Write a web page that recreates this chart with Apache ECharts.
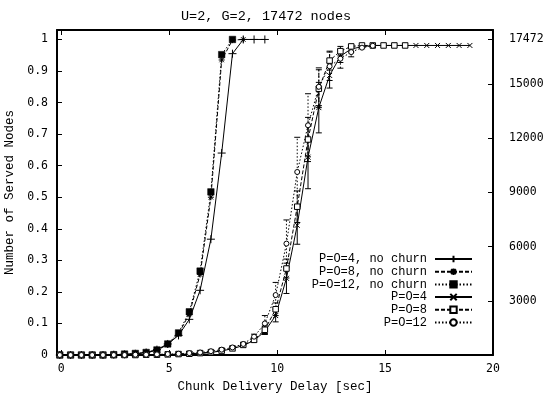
<!DOCTYPE html>
<html>
<head>
<meta charset="utf-8">
<script src="https://cdn.jsdelivr.net/npm/echarts@6/dist/echarts.min.js"></script>
<style>html,body{margin:0;padding:0;background:#fff}#c{width:546px;height:400px}</style>
</head>
<body>
<div id="c"></div>
<script>
const titleText = 'U=2, G=2, 17472 nodes';
const xName = 'Chunk Delivery Delay [sec]';
const yName = 'Number of Served Nodes';
const seriesNames = ['P=O=4, no churn', 'P=O=8, no churn', 'P=O=12, no churn', 'P=O=4', 'P=O=8', 'P=O=12'];
const xTicks = [0, 5, 10, 15, 20];
const yTicks = [0, 0.1, 0.2, 0.3, 0.4, 0.5, 0.6, 0.7, 0.8, 0.9, 1];
const y2Ticks = [3000, 6000, 9000, 12000, 15000, 17472];
const totalNodes = 17472;

// delay sample points (sec)
const xs = [-0.07, 0.43, 0.93, 1.43, 1.93, 2.43, 2.93, 3.43, 3.93, 4.43,
            4.93, 5.43, 5.93, 6.43, 6.93, 7.43, 7.93, 8.43, 8.93, 9.43,
            9.93, 10.43, 10.93, 11.43, 11.93, 12.43, 12.93, 13.43, 13.93, 14.43,
            14.93, 15.43, 15.93, 16.43, 16.93, 17.43, 17.93, 18.43, 18.93];

// fraction of served nodes
const s1 = [0, 0, 0, 0, 0, 0.001, 0.002, 0.004, 0.008, 0.017,
            0.035, 0.062, 0.113, 0.205, 0.367, 0.64, 0.955, 1.0, 1.0, 1.0];
const s2 = [0, 0, 0, 0, 0, 0.001, 0.002, 0.004, 0.007, 0.015,
            0.033, 0.066, 0.13, 0.255, 0.5, 0.935, 0.998, 1.0];
const s3 = [0, 0, 0, 0, 0, 0.001, 0.003, 0.005, 0.008, 0.016,
            0.035, 0.07, 0.137, 0.266, 0.517, 0.952, 1.0];
const s4 = [0, 0, 0, 0, 0, 0, 0, 0, 0, 0.001,
            0.001, 0.002, 0.003, 0.005, 0.008, 0.013, 0.02, 0.03, 0.046, 0.075,
            0.125, 0.243, 0.411, 0.627, 0.784, 0.886, 0.947, 0.97, 0.977, 0.981,
            0.981, 0.981, 0.981, 0.981, 0.981, 0.981, 0.981, 0.981, 0.981];
const s5 = [0, 0, 0, 0, 0, 0, 0, 0, 0.001, 0.001,
            0.002, 0.003, 0.004, 0.006, 0.009, 0.014, 0.021, 0.032, 0.048, 0.08,
            0.145, 0.274, 0.47, 0.683, 0.844, 0.933, 0.963, 0.978, 0.981, 0.981,
            0.981, 0.981, 0.981];
const s6 = [0, 0, 0, 0, 0, 0, 0, 0.001, 0.001, 0.002,
            0.003, 0.004, 0.006, 0.008, 0.012, 0.017, 0.024, 0.035, 0.058, 0.1,
            0.19, 0.353, 0.58, 0.728, 0.85, 0.915, 0.939, 0.96, 0.974, 0.98];

// error bar half-widths (churn runs)
const e4 = [0, 0, 0, 0, 0, 0, 0, 0, 0, 0,
            0, 0, 0, 0, 0, 0, 0, 0, 0.005, 0.01,
            0.02, 0.048, 0.06, 0.1, 0.08, 0.04, 0.02, 0.01, 0, 0];
const e5 = [0, 0, 0, 0, 0, 0, 0, 0, 0, 0,
            0, 0, 0, 0, 0, 0, 0, 0, 0.005, 0.012,
            0.02, 0.03, 0.05, 0.07, 0.06, 0.03, 0.015, 0.005, 0, 0];
const e6 = [0, 0, 0, 0, 0, 0, 0, 0, 0, 0,
            0, 0, 0, 0, 0, 0, 0, 0, 0.008, 0.025,
            0.04, 0.075, 0.11, 0.1, 0.06, 0.045, 0.03, 0.015, 0, 0];

const MONO = 'Liberation Mono';
const NUM = 'DejaVu Sans Mono';

const plusPath = 'path://M0,-4L0,4M-4,0L4,0';
const crossPath = 'path://M-3,-3L3,3M-3,3L3,-3';
const starPath = 'path://M0,-4L0,4M-4,0L4,0M-3,-3L3,3M-3,3L3,-3';

function pts(vals) { return vals.map((v, i) => [xs[i], v]); }
function errData(vals, errs) {
  const out = [];
  vals.forEach((v, i) => { if (errs[i] > 0) out.push([xs[i], v - errs[i], Math.min(v + errs[i], 1.03)]); });
  return out;
}

const styles = [
  { dash: 'solid', symbol: plusPath, size: 8, fill: '#000', bw: 1 },
  { dash: [4, 2], symbol: starPath, size: 6, fill: '#000', bw: 1 },
  { dash: [1.5, 2], symbol: 'rect', size: 6.5, fill: '#000', bw: 0.5 },
  { dash: 'solid', symbol: crossPath, size: 5, fill: '#000', bw: 1 },
  { dash: [4, 2], symbol: 'rect', size: 5.5, fill: '#fff', bw: 1 },
  { dash: [1.5, 2], symbol: 'circle', size: 5, fill: '#fff', bw: 1 }
];
const allVals = [s1, s2, s3, s4, s5, s6];

const series = [];
allVals.forEach((vals, k) => {
  const st = styles[k];
  series.push({
    name: seriesNames[k],
    type: 'line',
    data: pts(vals),
    symbol: st.symbol,
    symbolSize: st.size,
    showAllSymbol: true,
    lineStyle: { color: '#000', width: 1, type: st.dash },
    itemStyle: { color: st.fill, borderColor: '#000', borderWidth: st.bw },
    emphasis: { disabled: true },
    animation: false,
    z: 3 + k
  });
});

const errSets = [[s4, e4, 'solid'], [s5, e5, [4, 2]], [s6, e6, [1.5, 2]]];
errSets.forEach(([vals, errs, dash]) => {
  series.push({
    type: 'custom',
    data: errData(vals, errs),
    encode: { x: 0, y: [1, 2] },
    silent: true,
    animation: false,
    z: 2,
    renderItem: function (params, api) {
      const x = api.value(0);
      const lo = api.coord([x, api.value(1)]);
      const hi = api.coord([x, api.value(2)]);
      const w = 3;
      const style = { stroke: '#000', lineWidth: 1, lineDash: dash === 'solid' ? null : dash };
      return {
        type: 'group',
        children: [
          { type: 'line', shape: { x1: lo[0], y1: lo[1], x2: hi[0], y2: hi[1] }, style: style },
          { type: 'line', shape: { x1: lo[0] - w, y1: lo[1], x2: lo[0] + w, y2: lo[1] }, style: { stroke: '#000', lineWidth: 1 } },
          { type: 'line', shape: { x1: hi[0] - w, y1: hi[1], x2: hi[0] + w, y2: hi[1] }, style: { stroke: '#000', lineWidth: 1 } }
        ]
      };
    }
  });
});

const axisLine = { show: true, onZero: false, lineStyle: { color: '#000', width: 2 } };

const chart = echarts.init(document.getElementById('c'), null, { renderer: 'canvas' });
chart.setOption({
  animation: false,
  backgroundColor: '#fff',
  title: {
    text: titleText, left: 176, top: 4,
    textStyle: { fontFamily: MONO, fontSize: 13.5, fontWeight: 'normal', color: '#000' }
  },
  legend: {
    data: seriesNames,
    orient: 'vertical',
    align: 'right',
    right: 68,
    top: 248,
    itemWidth: 37,
    itemHeight: 8,
    itemGap: 0.7,
    selectedMode: false,
    formatter: n => n.padStart(16, ' '),
    textStyle: { fontFamily: MONO, fontSize: 12, color: '#000', lineHeight: 12, padding: [0, 3, 0, 0] }
  },
  grid: { left: 57, right: 53, top: 30, bottom: 45, containLabel: false, outerBoundsMode: 'none' },
  xAxis: [
    {
      type: 'value', min: -0.2, max: 20, position: 'bottom',
      axisLine: axisLine,
      axisTick: { show: true, inside: true, length: 5, customValues: xTicks, lineStyle: { color: '#000', width: 1 } },
      axisLabel: { customValues: xTicks, color: '#000', fontFamily: NUM, fontSize: 11.5, margin: 8 },
      splitLine: { show: false },
      name: xName, nameLocation: 'middle', nameGap: 23,
      nameTextStyle: { fontFamily: MONO, fontSize: 12.5, color: '#000' }
    },
    {
      type: 'value', min: -0.2, max: 20, position: 'top',
      axisLine: axisLine,
      axisTick: { show: true, inside: true, length: 5, customValues: xTicks, lineStyle: { color: '#000', width: 1 } },
      axisLabel: { show: false },
      splitLine: { show: false }
    }
  ],
  yAxis: [
    {
      type: 'value', min: 0, max: 1.03, position: 'left',
      axisLine: axisLine,
      axisTick: { show: true, inside: true, length: 5, customValues: yTicks, lineStyle: { color: '#000', width: 1 } },
      axisLabel: { customValues: yTicks, color: '#000', fontFamily: NUM, fontSize: 11.5, margin: 9 },
      splitLine: { show: false },
      name: yName, nameLocation: 'middle', nameGap: 36, nameRotate: 90,
      nameTextStyle: { fontFamily: MONO, fontSize: 12.5, color: '#000' }
    },
    {
      type: 'value', min: 0, max: 1.03 * totalNodes, position: 'right',
      axisLine: axisLine,
      axisTick: { show: true, inside: true, length: 5, customValues: y2Ticks, lineStyle: { color: '#000', width: 1 } },
      axisLabel: { customValues: y2Ticks, formatter: v => String(v), color: '#000', fontFamily: NUM, fontSize: 11.5, margin: 16 },
      splitLine: { show: false }
    }
  ],
  series: series
});
</script>
</body>
</html>
